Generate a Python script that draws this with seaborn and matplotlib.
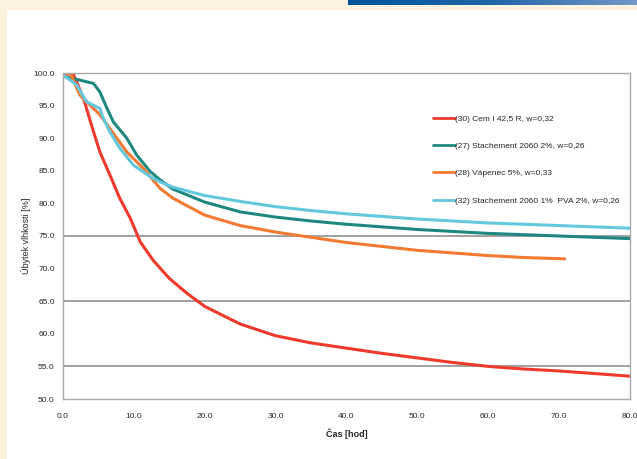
import numpy as np
import pandas as pd
import seaborn as sns
import matplotlib.pyplot as plt
from matplotlib.colors import LinearSegmentedColormap

# data
t_cem = [0, 1, 1.5, 2.9, 4.3, 5.2, 6.6, 8.0, 9.5, 10.9, 12.7, 15, 17.5, 20, 25, 30, 35, 40, 45, 50, 55, 60, 65, 70, 75, 80]
v_cem = [99.5, 100.0, 99.7, 96.1, 91.0, 87.9, 84.4, 80.8, 77.7, 74.1, 71.3, 68.5, 66.2, 64.2, 61.5, 59.7, 58.6, 57.8, 57.0, 56.3, 55.6, 55.0, 54.6, 54.3, 53.9, 53.5]

t_27 = [0, 2.4, 4.3, 5.2, 6.2, 7.1, 9.0, 10.4, 12.3, 13.7, 15.5, 20, 25, 30, 35, 40, 45, 50, 55, 60, 65, 70, 75, 80]
v_27 = [99.5, 98.9, 98.4, 97.1, 94.6, 92.5, 90.0, 87.4, 84.9, 83.6, 82.2, 80.2, 78.7, 77.9, 77.3, 76.8, 76.4, 76.0, 75.7, 75.4, 75.2, 75.0, 74.8, 74.6]

t_28 = [0, 1.0, 2.4, 3.8, 5.2, 6.6, 9.0, 11.3, 13.7, 15.5, 20, 25, 30, 35, 40, 45, 50, 55, 60, 65, 70.8]
v_28 = [99.6, 100.0, 96.6, 95.1, 93.6, 91.5, 87.9, 85.4, 82.3, 80.8, 78.2, 76.6, 75.6, 74.8, 74.0, 73.4, 72.8, 72.4, 72.0, 71.7, 71.5]

t_32 = [0, 1.9, 3.3, 4.75, 5.2, 5.7, 6.6, 8.0, 9.9, 12.3, 13.7, 15.5, 20, 25, 30, 35, 40, 45, 50, 55, 60, 65, 70, 75, 80]
v_32 = [99.7, 98.2, 95.6, 94.8, 94.6, 93.0, 91.0, 88.5, 85.9, 84.1, 83.3, 82.5, 81.2, 80.3, 79.5, 78.9, 78.4, 78.0, 77.6, 77.3, 77.0, 76.8, 76.6, 76.4, 76.2]

labels = ["(30) Cem I 42,5 R, w=0,32",
          "(27) Stachement 2060 2%, w=0,26",
          "(28) Vápenec 5%, w=0,33",
          "(32) Stachement 2060 1%  PVA 2%, w=0,26"]
colors = ["#EE3A2C", "#1E8880", "#F37A32", "#63C8DC"]

frames = []
for lab, t, v in zip(labels, [t_cem, t_27, t_28, t_32], [v_cem, v_27, v_28, v_32]):
    frames.append(pd.DataFrame({"t": t, "v": v, "serie": lab}))
df = pd.concat(frames, ignore_index=True)

sns.set_theme(style="white")
plt.rcParams['font.family'] = ['Liberation Sans', 'DejaVu Sans']

fig = plt.figure(figsize=(6.37, 4.59), dpi=100)
fig.patch.set_facecolor("#FDF2E0")

# white page area
bg = fig.add_axes([7 / 637, 0, 1 - 7 / 637, 1 - 10 / 459])
bg.set_facecolor("white")
bg.set_xticks([])
bg.set_yticks([])
for s in bg.spines.values():
    s.set_visible(False)

# blue gradient bar top right
bar = fig.add_axes([348 / 637, 1 - 5 / 459, 1 - 348 / 637, 5 / 459])
grad = np.linspace(0, 1, 256).reshape(1, -1)
cmap = LinearSegmentedColormap.from_list("b", ["#00559A", "#1F65A6", "#7397C8"])
bar.imshow(grad, aspect="auto", cmap=cmap)
bar.axis("off")

ax = fig.add_axes([63 / 637, 1 - 399 / 459, 567 / 637, 326 / 459])
ax.set_facecolor("none")
for y in [75, 65, 55]:
    ax.axhline(y, color="#888888", lw=1.1, zorder=0)

sns.lineplot(data=df, x="t", y="v", hue="serie", palette=colors, lw=2.2,
             ax=ax, sort=False, estimator=None)

ax.set_xlim(0, 80)
ax.set_ylim(50, 100)
ax.set_xticks(np.arange(0, 81, 10))
ax.set_yticks(np.arange(50, 101, 5))
ax.set_xticklabels([f"{x:.1f}" for x in np.arange(0, 81, 10)], fontsize=6)
ax.set_yticklabels([f"{y:.1f}" for y in np.arange(50, 101, 5)], fontsize=6)
ax.tick_params(axis="both", length=3, width=0.6, color="#999999", pad=3, direction="out")
ax.tick_params(axis="x", pad=7)
for s in ax.spines.values():
    s.set_color("#AAAAAA")
    s.set_linewidth(1.0)
ax.set_xlabel("Čas [hod]", fontsize=6.5, fontweight="bold", labelpad=6)
ax.set_ylabel("Úbytek vlhkosti [%]", fontsize=6.5, labelpad=1.5)

leg = ax.legend(loc="upper left", bbox_to_anchor=(0.64, 0.895), frameon=False,
                fontsize=6, handlelength=2.6, handletextpad=0.0,
                labelspacing=2.35, title=None)
for line in leg.get_lines():
    line.set_linewidth(2)

plt.savefig("out.png", dpi=100)
plt.close()
